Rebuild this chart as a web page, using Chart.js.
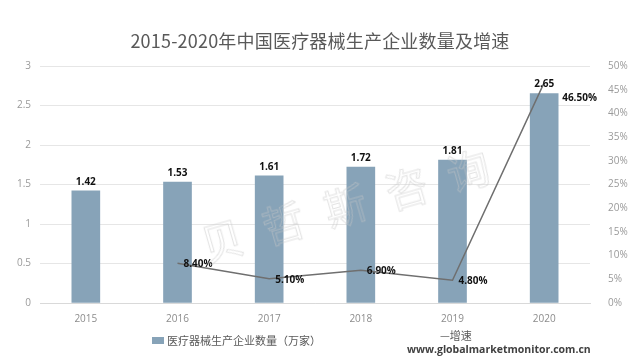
<!DOCTYPE html>
<html><head><meta charset="utf-8">
<script src="https://cdn.jsdelivr.net/npm/chart.js@4/dist/chart.umd.min.js"></script>
<style>
html,body{margin:0;padding:0;background:#fff;}
#wrap{position:relative;width:640px;height:360px;overflow:hidden;font-family:"Noto Sans CJK SC","Noto Sans",sans-serif;}
#title{position:absolute;left:0;top:27px;width:640px;text-align:center;font-size:18px;color:#595959;font-family:"Noto Sans CJK SC",sans-serif;letter-spacing:0.2px;}
#wm{position:absolute;left:195px;top:170px;font-size:42px;color:rgba(255,255,255,0);-webkit-text-stroke:1px rgba(200,200,200,0.5);transform:rotate(-16deg);letter-spacing:22px;font-family:"Noto Sans CJK SC",sans-serif;white-space:nowrap;pointer-events:none;}
.leg{position:absolute;font-size:11px;color:#595959;white-space:nowrap;}
#sw{display:inline-block;width:12px;height:7px;background:#87a3b8;margin-right:3px;vertical-align:1px;}
#url{position:absolute;left:407px;top:342px;font-size:10.5px;font-weight:bold;color:#404040;font-family:"Open Sans","DejaVu Sans",sans-serif;}
canvas{position:absolute;left:0;top:0;}
</style></head>
<body>
<div id="wrap">
<canvas id="c" width="640" height="360"></canvas>
<div id="title">2015-2020年中国医疗器械生产企业数量及增速</div>
<div id="wm">贝哲斯咨询</div>
<div class="leg" style="left:152px;top:332px;"><span id="sw"></span>医疗器械生产企业数量（万家）</div>
<div class="leg" style="left:440px;top:327px;">—增速</div>
<div id="url">www.globalmarketmonitor.com.cn</div>
</div>
<script>
const categories = ["2015","2016","2017","2018","2019","2020"];
const enterpriseCount = [1.42,1.53,1.61,1.72,1.81,2.65];
const growthRate = [null,8.40,5.10,6.90,4.80,46.50];
const leftTicks = [0,0.5,1,1.5,2,2.5,3];
const rightTicks = [0,5,10,15,20,25,30,35,40,45,50];

const labelPlugin = {
  id:'labels',
  afterDatasetsDraw(chart){
    const ctx = chart.ctx;
    ctx.save();
    ctx.fillStyle = '#111';
    ctx.font = 'bold 10px "Open Sans","DejaVu Sans",sans-serif';
    const bars = chart.getDatasetMeta(1).data;
    ctx.textAlign='center'; ctx.textBaseline='bottom';
    bars.forEach((b,i)=>{ ctx.fillText(enterpriseCount[i].toFixed(2), b.x, b.y-4); });
    const pts = chart.getDatasetMeta(0).data;
    ctx.textAlign='left'; ctx.textBaseline='middle';
    pts.forEach((p,i)=>{
      if(growthRate[i]==null) return;
      const t = growthRate[i].toFixed(2)+'%';
      if(i===pts.length-1) ctx.fillText(t, p.x+18, p.y+16);
      else ctx.fillText(t, p.x+6, p.y+1);
    });
    ctx.restore();
  }
};

new Chart(document.getElementById('c'),{
  data:{
    labels:categories,
    datasets:[
      {type:'line',label:'增速',data:growthRate,yAxisID:'y1',borderColor:'#6f6f6f',borderWidth:1.5,pointRadius:0,tension:0,order:0},
      {type:'bar',label:'医疗器械生产企业数量（万家）',data:enterpriseCount,yAxisID:'y',backgroundColor:'#87a3b8',barThickness:28,order:1}
    ]
  },
  options:{
    responsive:false,animation:false,
    layout:{padding:{top:66,bottom:35,left:0,right:0}},
    plugins:{legend:{display:false},tooltip:{enabled:false}},
    scales:{
      x:{grid:{display:false},border:{color:'#d9d9d9'},
         ticks:{color:'#8c8c8c',font:{size:10,family:'"Open Sans",sans-serif'},padding:2},
         afterFit(s){s.height=22;}},
      y:{position:'left',min:0,max:3,afterBuildTicks(s){s.ticks=leftTicks.map(v=>({value:v}));},
         grid:{color:'#e6e6e6',drawTicks:false},border:{display:false},
         ticks:{color:'#9a9a9a',font:{size:10,family:'"Open Sans",sans-serif'},padding:9,callback:v=>String(v)},
         afterFit(s){s.width=40;}},
      y1:{position:'right',min:0,max:50,afterBuildTicks(s){s.ticks=rightTicks.map(v=>({value:v}));},
         grid:{display:false},border:{display:false},
         ticks:{color:'#9a9a9a',font:{size:10,family:'"Open Sans",sans-serif'},padding:10,callback:v=>v+'%'},
         afterFit(s){s.width=50;}}
    }
  },
  plugins:[labelPlugin]
});
</script>
</body></html>
